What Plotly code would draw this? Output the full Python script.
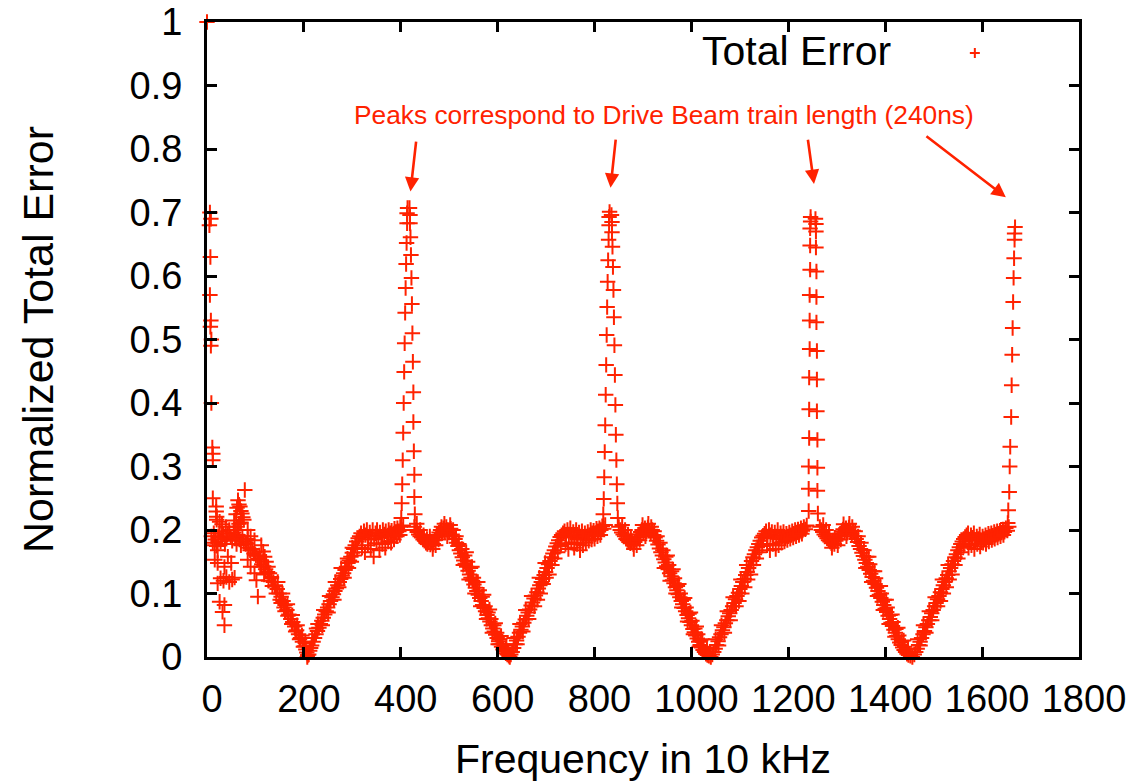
import plotly.graph_objects as go

# ---------------- data (frequency in 10 kHz, normalized error) ----------------
start_column = [(0, 1.0), (6, 0.70), (8, 0.69), (5, 0.68), (7, 0.63), (6, 0.57), (8, 0.53), (7, 0.52),
                (9, 0.50), (8, 0.49), (9, 0.40), (11, 0.33), (12, 0.32), (12, 0.31), (12, 0.25)]

start_cluster = [(9, 0.19), (12, 0.18), (14, 0.195), (17, 0.185), (20, 0.175), (23, 0.19), (26, 0.198),
                 (28, 0.182), (31, 0.188), (34, 0.194), (37, 0.178), (40, 0.186), (43, 0.195), (46, 0.2),
                 (49, 0.19), (52, 0.183), (55, 0.196), (58, 0.188), (61, 0.178), (64, 0.192), (67, 0.185),
                 (70, 0.176), (73, 0.19), (76, 0.182), (80, 0.178), (84, 0.186),
                 (19, 0.237), (19, 0.229), (20, 0.221), (20, 0.216), (26, 0.213), (31, 0.209), (39, 0.205),
                 (16, 0.176), (22, 0.168), (16, 0.153), (22, 0.148), (36, 0.142), (50, 0.148), (43, 0.158),
                 (22, 0.116), (28, 0.124), (34, 0.12), (40, 0.126), (46, 0.118), (52, 0.122), (57, 0.125),
                 (26, 0.087), (36, 0.082), (32, 0.071), (36, 0.05),
                 (56, 0.215), (60, 0.225), (62, 0.235), (64, 0.247), (66, 0.24), (68, 0.237), (70, 0.23),
                 (72, 0.226), (74, 0.22), (76, 0.216), (78, 0.263), (62, 0.205), (66, 0.21), (70, 0.212),
                 (58, 0.2), (84, 0.2), (90, 0.19), (98, 0.184), (112, 0.176), (116, 0.166), (119, 0.158),
                 (102, 0.121), (105, 0.095), (84, 0.153), (90, 0.142), (98, 0.132), (126, 0.142),
                 (133, 0.126), (140, 0.111), (122, 0.15), (108, 0.16)]

fall_1 = [(81, 0.179), (85, 0.172), (89, 0.168), (93, 0.17), (97, 0.163), (101, 0.16), (105, 0.155),
          (109, 0.153), (113, 0.146), (117, 0.143), (121, 0.138), (125, 0.134), (129, 0.132), (133, 0.124),
          (137, 0.118), (141, 0.113), (145, 0.107), (149, 0.1), (153, 0.095), (157, 0.088), (161, 0.082),
          (165, 0.074), (169, 0.067), (173, 0.06), (177, 0.055), (181, 0.048), (185, 0.042), (189, 0.036),
          (193, 0.03), (197, 0.024), (201, 0.017), (204, 0.012), (206, 0.007), (208, 0.003), (207, 0.0),
          (110, 0.142), (118, 0.13), (127, 0.12), (135, 0.112), (143, 0.1), (151, 0.09), (159, 0.078),
          (167, 0.065), (175, 0.052), (183, 0.04), (191, 0.028), (199, 0.016), (153, 0.085), (161, 0.072),
          (146, 0.118), (156, 0.1), (166, 0.083), (176, 0.066), (186, 0.05), (196, 0.034), (203, 0.022)]

rise_1 = [(210, 0.004), (212, 0.01), (214, 0.014), (216, 0.018), (219, 0.024), (222, 0.03), (225, 0.036),
          (228, 0.041), (231, 0.046), (234, 0.052), (237, 0.057), (240, 0.062), (243, 0.067), (246, 0.072),
          (249, 0.078), (252, 0.083), (255, 0.088), (258, 0.094), (261, 0.099), (264, 0.104), (267, 0.108),
          (270, 0.113), (273, 0.118), (276, 0.123), (279, 0.128), (282, 0.132), (285, 0.137), (288, 0.142),
          (291, 0.148), (294, 0.152), (297, 0.158), (300, 0.164), (303, 0.17), (306, 0.176), (309, 0.182),
          (312, 0.187), (315, 0.19), (226, 0.045), (238, 0.05), (250, 0.07), (262, 0.09), (272, 0.11),
          (283, 0.125), (292, 0.14), (298, 0.15), (304, 0.16), (310, 0.17), (290, 0.155), (300, 0.172),
          (217, 0.03), (229, 0.052), (241, 0.074), (253, 0.096), (265, 0.118), (277, 0.14)]

plateau_1 = [(318, 0.195), (321, 0.188), (324, 0.198), (327, 0.192), (330, 0.2), (333, 0.185), (336, 0.196),
             (339, 0.19), (342, 0.2), (345, 0.186), (348, 0.195), (351, 0.2), (354, 0.19), (357, 0.196),
             (360, 0.188), (363, 0.2), (366, 0.193), (369, 0.198), (372, 0.19), (375, 0.2), (378, 0.195),
             (381, 0.199), (384, 0.192), (387, 0.202), (390, 0.197), (393, 0.203), (396, 0.198), (399, 0.205),
             (402, 0.2), (405, 0.207), (320, 0.172), (326, 0.165), (332, 0.176), (338, 0.17), (344, 0.158),
             (350, 0.179), (356, 0.168), (362, 0.178), (368, 0.172), (374, 0.182), (380, 0.18), (386, 0.185),
             (392, 0.19), (398, 0.192)]

peak1_left_freq = [414, 413, 413, 412, 411, 410, 409, 408, 407, 406, 405, 404, 403, 402, 401]
peak1_left_err = [0.707, 0.699, 0.683, 0.652, 0.619, 0.581, 0.542, 0.494, 0.449, 0.400, 0.353, 0.310, 0.272,
                  0.242, 0.219]
peak1_right_freq = [418, 419, 419, 420, 421, 422, 423, 424, 425, 426, 426, 427, 428, 428, 429]
peak1_right_err = [0.707, 0.696, 0.683, 0.661, 0.633, 0.597, 0.556, 0.510, 0.465, 0.417, 0.370, 0.324, 0.287,
                   0.252, 0.225]

fall_2 = [(428, 0.205), (431, 0.2), (434, 0.197), (437, 0.193), (440, 0.19), (443, 0.188), (446, 0.185),
          (449, 0.183), (452, 0.18), (455, 0.178), (458, 0.181), (461, 0.177), (464, 0.18), (467, 0.178),
          (470, 0.184), (473, 0.188), (476, 0.192), (479, 0.196), (482, 0.2), (485, 0.195), (488, 0.203),
          (491, 0.198), (494, 0.205), (497, 0.2), (500, 0.196), (503, 0.202), (506, 0.193), (509, 0.19),
          (512, 0.186), (515, 0.18), (518, 0.175), (521, 0.168), (524, 0.163), (527, 0.157), (530, 0.152),
          (533, 0.147), (536, 0.142), (539, 0.136), (542, 0.13), (545, 0.125), (548, 0.12), (551, 0.114),
          (554, 0.109), (557, 0.104), (560, 0.098), (563, 0.093), (566, 0.088), (569, 0.082), (572, 0.077),
          (575, 0.072), (578, 0.066), (581, 0.061), (584, 0.056), (587, 0.05), (590, 0.045), (593, 0.04),
          (596, 0.035), (599, 0.03), (602, 0.025), (605, 0.02), (608, 0.016), (611, 0.012), (614, 0.009),
          (617, 0.006), (620, 0.004), (623, 0.002), (625, 0.0),
          (433, 0.21), (440, 0.2), (447, 0.192), (454, 0.186), (460, 0.19), (466, 0.17), (472, 0.176),
          (478, 0.185), (484, 0.205), (490, 0.21), (496, 0.19), (502, 0.208), (508, 0.2), (514, 0.19),
          (520, 0.178), (526, 0.17), (532, 0.16), (538, 0.15), (544, 0.14), (550, 0.125), (556, 0.118),
          (562, 0.105), (568, 0.095), (574, 0.08), (580, 0.07), (586, 0.06), (592, 0.05), (598, 0.038),
          (604, 0.028), (610, 0.02), (616, 0.012), (529, 0.145), (541, 0.122), (553, 0.1), (565, 0.08),
          (577, 0.06), (589, 0.038), (601, 0.02), (535, 0.165), (547, 0.142), (559, 0.118), (571, 0.098),
          (583, 0.075), (595, 0.053), (607, 0.033), (618, 0.018)]

rise_2 = [(627, 0.004), (630, 0.008), (633, 0.014), (636, 0.02), (639, 0.026), (642, 0.032), (645, 0.038),
          (648, 0.043), (651, 0.048), (654, 0.054), (657, 0.059), (660, 0.065), (663, 0.07), (666, 0.075),
          (669, 0.081), (672, 0.086), (675, 0.092), (678, 0.097), (681, 0.102), (684, 0.108), (687, 0.113),
          (690, 0.118), (693, 0.123), (696, 0.129), (699, 0.134), (702, 0.14), (705, 0.146), (708, 0.151),
          (711, 0.157), (714, 0.163), (717, 0.168), (720, 0.174), (723, 0.179), (726, 0.184), (729, 0.189),
          (732, 0.192), (735, 0.195), (640, 0.02), (652, 0.04), (664, 0.06), (676, 0.08), (688, 0.1),
          (700, 0.125), (712, 0.145), (724, 0.165), (706, 0.13), (718, 0.155), (730, 0.175), (694, 0.115),
          (682, 0.09), (634, 0.03), (646, 0.052), (658, 0.074), (670, 0.096), (686, 0.125), (698, 0.148)]

plateau_2 = [(738, 0.198), (741, 0.19), (744, 0.2), (747, 0.193), (750, 0.203), (753, 0.188), (756, 0.197),
             (759, 0.192), (762, 0.2), (765, 0.186), (768, 0.196), (771, 0.19), (774, 0.198), (777, 0.185),
             (780, 0.195), (783, 0.19), (786, 0.197), (789, 0.192), (792, 0.2), (795, 0.195), (798, 0.199),
             (801, 0.194), (804, 0.202), (807, 0.198), (810, 0.203), (813, 0.2), (816, 0.206), (819, 0.202),
             (822, 0.208), (740, 0.178), (746, 0.17), (752, 0.18), (758, 0.172), (764, 0.178), (770, 0.168),
             (776, 0.176), (782, 0.18), (788, 0.183), (794, 0.185), (800, 0.186), (806, 0.19), (812, 0.192)]

peak2_left_freq = [831, 830, 830, 829, 828, 827, 826, 825, 824, 823, 822, 821, 820, 819, 818]
peak2_left_err = [0.701, 0.693, 0.680, 0.657, 0.625, 0.591, 0.551, 0.507, 0.460, 0.413, 0.365, 0.323, 0.283,
                  0.249, 0.225]
peak2_right_freq = [835, 836, 836, 837, 838, 839, 840, 841, 842, 843, 844, 845, 846, 847, 848]
peak2_right_err = [0.696, 0.685, 0.669, 0.646, 0.614, 0.578, 0.535, 0.491, 0.444, 0.397, 0.350, 0.310, 0.272,
                   0.242, 0.219]

fall_3 = [(850, 0.205), (853, 0.2), (856, 0.196), (859, 0.193), (862, 0.19), (865, 0.186), (868, 0.184),
          (871, 0.181), (874, 0.179), (877, 0.182), (880, 0.178), (883, 0.181), (886, 0.185), (889, 0.189),
          (892, 0.193), (895, 0.197), (898, 0.2), (901, 0.196), (904, 0.203), (907, 0.198), (910, 0.204),
          (913, 0.199), (916, 0.195), (919, 0.2), (922, 0.192), (925, 0.188), (928, 0.183), (931, 0.177),
          (934, 0.171), (937, 0.165), (940, 0.16), (943, 0.154), (946, 0.149), (949, 0.143), (952, 0.138),
          (955, 0.132), (958, 0.127), (961, 0.121), (964, 0.116), (967, 0.11), (970, 0.105), (973, 0.099),
          (976, 0.094), (979, 0.088), (982, 0.083), (985, 0.077), (988, 0.072), (991, 0.066), (994, 0.061),
          (997, 0.055), (1000, 0.05), (1003, 0.044), (1006, 0.039), (1009, 0.034), (1012, 0.029),
          (1015, 0.024), (1018, 0.019), (1021, 0.015), (1024, 0.011), (1027, 0.008), (1030, 0.005),
          (1033, 0.003), (1036, 0.002), (1040, 0.0),
          (857, 0.208), (863, 0.2), (869, 0.193), (875, 0.188), (881, 0.17), (887, 0.176), (893, 0.184),
          (899, 0.208), (905, 0.19), (911, 0.21), (917, 0.205), (923, 0.198), (929, 0.19), (935, 0.18),
          (941, 0.168), (947, 0.158), (953, 0.145), (959, 0.135), (965, 0.124), (971, 0.112), (977, 0.1),
          (983, 0.09), (989, 0.078), (995, 0.068), (1001, 0.057), (1007, 0.045), (1013, 0.036),
          (1019, 0.026), (1025, 0.016), (944, 0.14), (956, 0.12), (968, 0.1), (980, 0.078), (992, 0.056),
          (1004, 0.036), (1016, 0.016), (950, 0.16), (962, 0.138), (974, 0.115), (986, 0.093),
          (998, 0.07), (1010, 0.048), (1022, 0.028), (1032, 0.014)]

rise_3 = [(1043, 0.004), (1046, 0.008), (1049, 0.013), (1052, 0.019), (1055, 0.025), (1058, 0.031),
          (1061, 0.036), (1064, 0.042), (1067, 0.047), (1070, 0.053), (1073, 0.058), (1076, 0.064),
          (1079, 0.069), (1082, 0.074), (1085, 0.08), (1088, 0.085), (1091, 0.091), (1094, 0.096),
          (1097, 0.101), (1100, 0.107), (1103, 0.112), (1106, 0.118), (1109, 0.123), (1112, 0.129),
          (1115, 0.134), (1118, 0.14), (1121, 0.145), (1124, 0.151), (1127, 0.157), (1130, 0.162),
          (1133, 0.168), (1136, 0.173), (1139, 0.178), (1142, 0.183), (1145, 0.188), (1148, 0.191),
          (1151, 0.194), (1056, 0.018), (1068, 0.038), (1080, 0.058), (1092, 0.08), (1104, 0.1),
          (1116, 0.122), (1128, 0.145), (1140, 0.165), (1110, 0.11), (1122, 0.13), (1134, 0.155),
          (1146, 0.175), (1098, 0.088), (1050, 0.028), (1062, 0.05), (1074, 0.072), (1086, 0.094),
          (1102, 0.122), (1114, 0.145)]

plateau_3 = [(1154, 0.198), (1157, 0.19), (1160, 0.2), (1163, 0.192), (1166, 0.197), (1169, 0.187),
             (1172, 0.196), (1175, 0.19), (1178, 0.2), (1181, 0.186), (1184, 0.195), (1187, 0.19),
             (1190, 0.197), (1193, 0.188), (1196, 0.194), (1199, 0.19), (1202, 0.196), (1205, 0.192),
             (1208, 0.198), (1211, 0.194), (1214, 0.2), (1217, 0.196), (1220, 0.201), (1223, 0.197),
             (1226, 0.203), (1229, 0.199), (1232, 0.205), (1235, 0.201), (1238, 0.207),
             (1156, 0.176), (1162, 0.168), (1168, 0.178), (1174, 0.17), (1180, 0.176), (1186, 0.18),
             (1192, 0.182), (1198, 0.184), (1204, 0.186), (1210, 0.188), (1216, 0.19), (1222, 0.192),
             (1228, 0.194)]

peak3_left_freq = [1246, 1246, 1245, 1245, 1245, 1244, 1244, 1244, 1243, 1243, 1243, 1242, 1242, 1242]
peak3_left_err = [0.693, 0.686, 0.675, 0.648, 0.61, 0.57, 0.53, 0.485, 0.44, 0.39, 0.345, 0.3, 0.265, 0.23]
peak3_right_freq = [1256, 1257, 1257, 1257, 1258, 1258, 1258, 1259, 1259, 1259, 1260, 1260, 1260, 1261]
peak3_right_err = [0.69, 0.682, 0.67, 0.645, 0.607, 0.567, 0.527, 0.482, 0.437, 0.387, 0.342, 0.298, 0.262,
                   0.226]

fall_4 = [(1265, 0.205), (1268, 0.2), (1271, 0.197), (1274, 0.193), (1277, 0.19), (1280, 0.187),
          (1283, 0.184), (1286, 0.182), (1289, 0.179), (1292, 0.182), (1295, 0.178), (1298, 0.183),
          (1301, 0.186), (1304, 0.19), (1307, 0.194), (1310, 0.198), (1313, 0.201), (1316, 0.196),
          (1319, 0.203), (1322, 0.198), (1325, 0.204), (1328, 0.198), (1331, 0.194), (1334, 0.199),
          (1337, 0.19), (1340, 0.186), (1343, 0.181), (1346, 0.175), (1349, 0.17), (1352, 0.164),
          (1355, 0.159), (1358, 0.153), (1361, 0.148), (1364, 0.142), (1367, 0.137), (1370, 0.131),
          (1373, 0.126), (1376, 0.12), (1379, 0.115), (1382, 0.109), (1385, 0.104), (1388, 0.098),
          (1391, 0.093), (1394, 0.087), (1397, 0.082), (1400, 0.076), (1403, 0.071), (1406, 0.065),
          (1409, 0.06), (1412, 0.054), (1415, 0.049), (1418, 0.043), (1421, 0.038), (1424, 0.033),
          (1427, 0.028), (1430, 0.023), (1433, 0.019), (1436, 0.015), (1439, 0.011), (1442, 0.008),
          (1445, 0.005), (1448, 0.003), (1452, 0.002), (1456, 0.0),
          (1272, 0.208), (1278, 0.2), (1284, 0.194), (1290, 0.172), (1296, 0.188), (1302, 0.176),
          (1308, 0.185), (1314, 0.209), (1320, 0.19), (1326, 0.21), (1332, 0.205), (1338, 0.198),
          (1344, 0.19), (1350, 0.18), (1356, 0.168), (1362, 0.158), (1368, 0.146), (1374, 0.135),
          (1380, 0.124), (1386, 0.112), (1392, 0.1), (1398, 0.09), (1404, 0.078), (1410, 0.066),
          (1416, 0.055), (1422, 0.044), (1428, 0.034), (1434, 0.025), (1440, 0.016), (1360, 0.14),
          (1372, 0.118), (1384, 0.096), (1396, 0.074), (1408, 0.052), (1420, 0.032), (1366, 0.158),
          (1378, 0.135), (1390, 0.112), (1402, 0.09), (1414, 0.067), (1426, 0.046), (1438, 0.026),
          (1447, 0.013)]

rise_4 = [(1460, 0.004), (1463, 0.008), (1466, 0.013), (1469, 0.019), (1472, 0.024), (1475, 0.03),
          (1478, 0.036), (1481, 0.041), (1484, 0.047), (1487, 0.052), (1490, 0.058), (1493, 0.063),
          (1496, 0.069), (1499, 0.074), (1502, 0.08), (1505, 0.085), (1508, 0.091), (1511, 0.096),
          (1514, 0.102), (1517, 0.107), (1520, 0.113), (1523, 0.118), (1526, 0.124), (1529, 0.129),
          (1532, 0.135), (1535, 0.14), (1538, 0.146), (1541, 0.151), (1544, 0.157), (1547, 0.162),
          (1550, 0.168), (1553, 0.173), (1556, 0.178), (1559, 0.182), (1562, 0.186), (1565, 0.189),
          (1568, 0.192), (1472, 0.018), (1484, 0.038), (1496, 0.058), (1508, 0.08), (1520, 0.1),
          (1532, 0.122), (1544, 0.145), (1556, 0.165), (1526, 0.11), (1538, 0.13), (1550, 0.155),
          (1562, 0.175), (1514, 0.088), (1467, 0.028), (1479, 0.05), (1491, 0.072), (1503, 0.094),
          (1518, 0.122), (1530, 0.145)]

plateau_4 = [(1571, 0.195), (1574, 0.185), (1577, 0.192), (1580, 0.188), (1583, 0.195), (1586, 0.184),
             (1589, 0.19), (1592, 0.186), (1595, 0.193), (1598, 0.183), (1601, 0.19), (1604, 0.186),
             (1607, 0.192), (1610, 0.188), (1613, 0.194), (1616, 0.19), (1619, 0.195), (1622, 0.191),
             (1625, 0.197), (1628, 0.193), (1631, 0.198), (1634, 0.194), (1637, 0.199), (1640, 0.196),
             (1643, 0.201), (1646, 0.197), (1649, 0.203), (1652, 0.199), (1655, 0.205),
             (1572, 0.172), (1578, 0.176), (1584, 0.17), (1590, 0.178), (1596, 0.174), (1602, 0.18),
             (1608, 0.178), (1614, 0.182), (1620, 0.184), (1626, 0.186), (1632, 0.188), (1638, 0.19),
             (1644, 0.192)]

peak4_freq = [1668, 1667, 1667, 1666, 1665, 1664, 1663, 1662, 1661, 1660, 1658, 1657, 1656, 1654, 1653]
peak4_err = [0.677, 0.667, 0.657, 0.628, 0.597, 0.559, 0.518, 0.476, 0.428, 0.378, 0.331, 0.3, 0.26, 0.231,
             0.211]

x_ticks = [0, 200, 400, 600, 800, 1000, 1200, 1400, 1600, 1800]
y_ticks = [0, 0.1, 0.2, 0.3, 0.4, 0.5, 0.6, 0.7, 0.8, 0.9, 1]
y_tick_text = ["0", "0.1", "0.2", "0.3", "0.4", "0.5", "0.6", "0.7", "0.8", "0.9", "1"]

# arrows: (tail freq, tail err, head freq, head err)
arrows = [(432, 0.814, 420, 0.733), (844, 0.817, 833, 0.739),
          (1240, 0.817, 1253, 0.745), (1482, 0.822, 1649, 0.724)]

# ---------------- assemble ----------------
bands = [start_column, start_cluster, fall_1, rise_1, plateau_1, fall_2, rise_2, plateau_2,
         fall_3, rise_3, plateau_3, fall_4, rise_4, plateau_4]
freq = [p[0] for b in bands for p in b]
err = [p[1] for b in bands for p in b]
freq += peak1_left_freq + peak1_right_freq + peak2_left_freq + peak2_right_freq
err += peak1_left_err + peak1_right_err + peak2_left_err + peak2_right_err
freq += peak3_left_freq + peak3_right_freq + peak4_freq
err += peak3_left_err + peak3_right_err + peak4_err

RED = "#ff2200"
FONT = "Liberation Sans, Arial, Helvetica, sans-serif"

fig = go.Figure()
fig.add_trace(go.Scatter(
    x=freq, y=err, mode="markers", name="Total Error", showlegend=False,
    cliponaxis=False,
    marker=dict(symbol="cross-thin", size=11, color=RED, line=dict(color=RED, width=2)),
))

axis_common = dict(
    showline=True, linewidth=3, linecolor="black", mirror="ticks",
    ticks="inside", ticklen=10, tickwidth=3, tickcolor="black",
    showgrid=False, zeroline=False, automargin=False,
    tickfont=dict(family=FONT, size=38, color="black"),
)

fig.update_xaxes(range=[0, 1800], tickvals=x_ticks, ticklabelshift=5, ticklabelstandoff=6,
                 title=dict(text="Frequency in 10 kHz", font=dict(family=FONT, size=41, color="black"),
                            standoff=26),
                 **axis_common)
fig.update_yaxes(range=[0, 1], tickvals=y_ticks, ticktext=y_tick_text, ticklabelstandoff=14,
                 title=dict(text="Normalized Total Error", font=dict(family=FONT, size=43, color="black"),
                            standoff=63),
                 **axis_common)

annotations = [
    dict(x=943, y=0.8535, xref="x", yref="y", text="Peaks correspond to Drive Beam train length (240ns)",
         showarrow=False, yshift=0, font=dict(family=FONT, size=26.3, color=RED)),
    dict(x=1416, y=0.951, xref="x", yref="y", text="Total Error", xanchor="right", showarrow=False,
         yshift=2, font=dict(family=FONT, size=41, color="black")),
]
for tx, ty, hx, hy in arrows:
    annotations.append(dict(x=hx, y=hy, ax=tx, ay=ty, xref="x", yref="y", axref="x", ayref="y",
                            text="", showarrow=True, arrowhead=2, arrowsize=1.1, arrowwidth=2.6,
                            arrowcolor=RED))

# legend key drawn next to the legend label
shapes = [dict(type="path", xref="x", yref="y", xsizemode="pixel", ysizemode="pixel",
               xanchor=1585, yanchor=0.951, path="M-5,0 L5,0 M0,-5 L0,5",
               line=dict(color=RED, width=2))]

fig.update_layout(
    width=1146, height=784,
    margin=dict(l=207, r=67, t=22, b=127, autoexpand=False),
    paper_bgcolor="white", plot_bgcolor="white",
    font=dict(family=FONT, color="black"),
    annotations=annotations, shapes=shapes,
    showlegend=False,
)

fig.write_html("out.html")
